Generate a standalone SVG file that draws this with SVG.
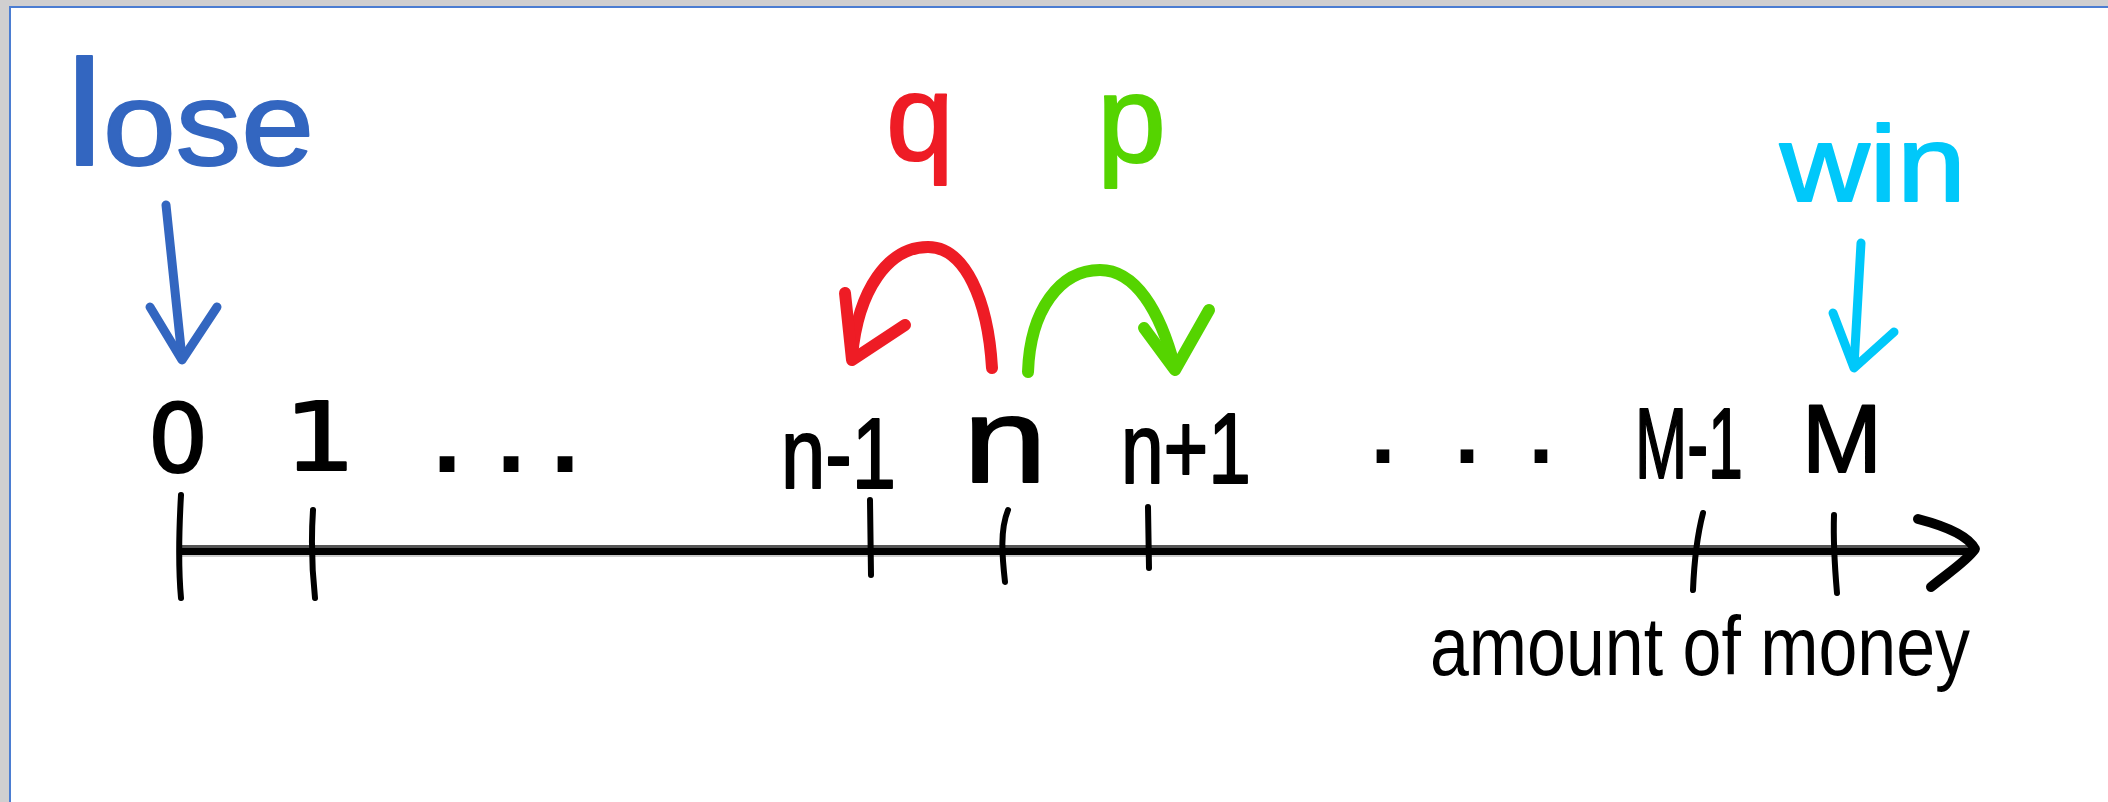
<svg xmlns="http://www.w3.org/2000/svg" width="2108" height="802" viewBox="0 0 2108 802">
  <style>
    .ink { fill: none; stroke-linecap: round; stroke-linejoin: round; }
    .tick { fill: none; stroke: #000; stroke-width: 6; stroke-linecap: round; }
    .lbl { font-family: "Liberation Sans", Arial, sans-serif; fill: #000; stroke: #000; stroke-width: 2; stroke-linejoin: round; }
    .dig { font-family: "DejaVu Sans", "Liberation Sans", sans-serif; fill: #000; stroke: #000; stroke-width: 2; stroke-linejoin: round; }
    .dots { font-family: "Liberation Sans", Arial, sans-serif; font-weight: bold; fill: #000; }
    .hand { font-family: "Liberation Sans", Arial, sans-serif; stroke-linejoin: round; }
  </style>

  <!-- window frame -->
  <rect x="0" y="0" width="2108" height="802" fill="#d0cfd0"/>
  <rect x="10" y="7" width="2098" height="795" fill="#ffffff"/>
  <line x1="9" y1="7" x2="2108" y2="7" stroke="#4b7dd2" stroke-width="2"/>
  <line x1="10" y1="6" x2="10" y2="802" stroke="#4b7dd2" stroke-width="2"/>

  <!-- number line -->
  <g id="axis">
    <line x1="181" y1="546.5" x2="1972" y2="546.5" stroke="#555" stroke-width="3"/>
    <line x1="181" y1="556" x2="1972" y2="556" stroke="#ccc" stroke-width="2"/>
    <line x1="181" y1="551.5" x2="1974" y2="551.5" stroke="#000" stroke-width="7"/>
    <path class="ink" stroke="#000" stroke-width="10" d="M1918,519 C1945,526 1968,535 1975,549 C1966,562 1945,575 1931,587"/>
    <path class="tick" d="M181,495 C179,530 178,565 181,598"/>
    <path class="tick" d="M313,510 C311,540 312,570 315,598"/>
    <path class="tick" d="M870,500 L871,575"/>
    <path class="tick" d="M1008,510 C1000,530 1002,555 1005,582"/>
    <path class="tick" d="M1148,507 L1149,568"/>
    <path class="tick" d="M1703,513 C1696,540 1694,565 1693,590"/>
    <path class="tick" d="M1834,515 C1833,545 1835,570 1837,593"/>
  </g>

  <!-- tick labels -->
  <g id="label-0"><text class="dig" x="178" y="472" font-size="95" text-anchor="middle">0</text></g>
  <g id="label-1"><text class="dig" x="320" y="470" font-size="95" text-anchor="middle" textLength="72" lengthAdjust="spacingAndGlyphs">1</text></g>
  <g id="dots-left"><text class="dots" x="447 511 565" y="472" font-size="105" text-anchor="middle">...</text></g>
  <g id="label-n-1"><text class="lbl" x="781" y="488" font-size="100" textLength="115" lengthAdjust="spacingAndGlyphs">n-1</text></g>
  <g id="label-n"><text class="lbl" x="963" y="482" font-size="120" textLength="84" lengthAdjust="spacingAndGlyphs">n</text></g>
  <g id="label-n+1"><text class="lbl" x="1121" y="483" font-size="100" textLength="130" lengthAdjust="spacingAndGlyphs">n+1</text></g>
  <g id="dots-right"><text class="dots" x="1383 1467 1541" y="463" font-size="90" text-anchor="middle">...</text></g>
  <g id="label-M-1"><text class="lbl" x="1635" y="478" font-size="100" textLength="108" lengthAdjust="spacingAndGlyphs">M-1</text></g>
  <g id="label-M"><text class="lbl" x="1802" y="472" font-size="96" textLength="80" lengthAdjust="spacingAndGlyphs">M</text></g>

  <!-- outcome labels -->
  <g id="lose"><text class="hand" x="66" y="165" font-size="118" fill="#3366c0" stroke="#3366c0" stroke-width="2" textLength="248" lengthAdjust="spacingAndGlyphs"><tspan font-size="150">l</tspan>ose</text></g>
  <g id="win"><text class="hand" x="1780" y="201" font-size="108" fill="#00c8fa" stroke="#00c8fa" stroke-width="2" textLength="186" lengthAdjust="spacingAndGlyphs">win</text></g>
  <g id="q"><text class="hand" x="886" y="160" font-size="122" fill="#ee1c25" stroke="#ee1c25" stroke-width="2">q</text></g>
  <g id="p"><text class="hand" x="1097" y="162" font-size="124" fill="#55d400" stroke="#55d400" stroke-width="2">p</text></g>
  <g id="axis-title"><text class="hand" x="1430" y="675" font-size="84" fill="#000" textLength="540" lengthAdjust="spacingAndGlyphs">amount of money</text></g>

  <!-- transitions and markers -->
  <g id="connectors">
    <path class="ink" stroke="#3366c0" stroke-width="9" d="M166,205 L182,358"/>
    <path class="ink" stroke="#3366c0" stroke-width="9" d="M150,307 L182,360 L217,307"/>
    <path class="ink" stroke="#00c8fa" stroke-width="9" d="M1861,243 L1854,366"/>
    <path class="ink" stroke="#00c8fa" stroke-width="9" d="M1833,313 L1854,368 L1894,332"/>
    <path class="ink" stroke="#ee1c25" stroke-width="12" d="M992,368 C988,300 965,247 928,247 C888,247 858,290 852,356"/>
    <path class="ink" stroke="#ee1c25" stroke-width="12" d="M845,293 L852,360 L905,325"/>
    <path class="ink" stroke="#55d400" stroke-width="12" d="M1028,372 C1030,310 1060,270 1100,270 C1135,270 1160,310 1175,368"/>
    <path class="ink" stroke="#55d400" stroke-width="12" d="M1144,328 L1175,370 L1209,310"/>
  </g>
</svg>
